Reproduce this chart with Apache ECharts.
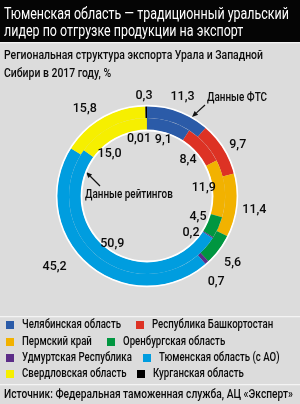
<!DOCTYPE html>
<html><head><meta charset="utf-8">
<script src="https://cdn.jsdelivr.net/npm/echarts@6/dist/echarts.min.js"></script>
<style>html,body{margin:0;padding:0;background:#dcdcdc}#c{width:300px;height:404px}</style>
</head><body><div id="c"></div>
<script>
const categories = ['Челябинская область','Республика Башкортостан','Пермский край','Оренбургская область','Удмуртская Республика','Тюменская область (с АО)','Свердловская область','Курганская область'];
const ftsValues = [11.3, 9.7, 11.4, 5.6, 0.7, 45.2, 15.8, 0.3];
const ratingValues = [9.1, 8.4, 11.9, 4.5, 0.2, 50.9, 15.0, 0.01];
const colors = ['#2b5ba8','#dd3224','#f2b200','#009640','#5c2d88','#009ddf','#f6ef00','#000000'];
const legendRows = [[0,1],[2,3],[4,5],[6,7]];
const titleLines = ['Тюменская область — традиционный уральский','лидер по отгрузке продукции на экспорт'];
const subtitleLines = ['Региональная структура экспорта Урала и Западной','Сибири в 2017 году, %'];
const sourceText = 'Источник: Федеральная таможенная служба, АЦ «Эксперт»';
const ftsNote = 'Данные ФТС';
const ratingNote = 'Данные рейтингов';
// label nudges (px) relative to the ring-label position
const outerNudge = [[-2,2],[-1,6],[0,2],[-1,2],[-3,6],[-22,-11],[-9,7],[-2,8]];
const innerNudge = [[0,0],[-2,3],[-1,-2],[-2,-3],[-5,6],[-2,0],[-11,10],[-8,1]];

const FONT = 'Roboto, "Liberation Sans", sans-serif';
const C = [147, 196];
const fmt = v => v.toFixed(v < 0.1 ? 2 : 1).replace('.', ',');

const mctx = document.createElement('canvas').getContext('2d');
function fontStr(size, w) { return (w || 'normal') + ' ' + size + 'px ' + FONT; }
function measure(text, size, w) { mctx.font = fontStr(size, w); return mctx.measureText(text).width; }
// condensed text (reference uses a narrow face): scale horizontally to the reference width
function ctext(text, x, y, size, k, fill, w) {
  return { type: 'text', x: x, y: y, scaleX: k, scaleY: 1, originX: 0, originY: 0, silent: true,
    style: { text: text, x: 0, y: 0, fill: fill || '#111', font: fontStr(size, w), verticalAlign: 'middle' } };
}

function ringData(vals) {
  return vals.map((v, i) => ({ name: categories[i], value: v, itemStyle: { color: colors[i] } }));
}
function labelRing(vals, radius, nudge) {
  return {
    type: 'pie', center: C, radius: radius, startAngle: 90, silent: true,
    avoidLabelOverlap: false, z: 5,
    itemStyle: { color: 'rgba(0,0,0,0)' },
    label: { show: true, position: 'inside', color: '#0a0a0a', fontFamily: FONT, fontSize: 12.5, fontWeight: 500,
      formatter: p => fmt(p.value) },
    labelLine: { show: false },
    emphasis: { disabled: true },
    labelLayout: p => ({ dx: nudge[p.dataIndex][0], dy: nudge[p.dataIndex][1] }),
    data: vals.map(v => ({ value: v }))
  };
}
function whiteRing(radius) {
  return { type: 'pie', center: C, radius: radius, silent: true, label: { show: false },
    emphasis: { disabled: true }, itemStyle: { color: '#ffffff' }, data: [{ value: 1 }] };
}
function arrow(x1, y1, x2, y2) {
  const dx = x2 - x1, dy = y2 - y1, L = Math.hypot(dx, dy);
  const ux = dx / L, uy = dy / L, h = 6, w = 2.6;
  const bx = x2 - ux * h, by = y2 - uy * h;
  return [
    { type: 'line', shape: { x1: x1, y1: y1, x2: bx, y2: by }, style: { stroke: '#111', lineWidth: 1.2 } },
    { type: 'polygon', shape: { points: [[x2, y2], [bx - uy * w, by + ux * w], [bx + uy * w, by - ux * w]] }, style: { fill: '#111' } }
  ];
}

// condense factors from reference text widths
const kTitle = 285 / measure(titleLines[0], 16.5);
const kSub = 259 / measure(subtitleLines[0], 13.5, 500);
const kLeg = 99 / measure(categories[0], 13, 500);
const kSrc = 289 / measure(sourceText, 13, 500);
const kNote = 60 / measure(ftsNote, 13, 500);

// legend (built from categories + colors)
const legendY = [325, 342, 358, 374];
const legendX2 = [136, 107, 143, 137];
const legendEls = [];
legendRows.forEach((row, r) => {
  row.forEach((ci, j) => {
    const x = j === 0 ? 6 : legendX2[r];
    legendEls.push({ type: 'rect', shape: { x: x, y: legendY[r] - 4, width: 8, height: 8 }, style: { fill: colors[ci] } });
    legendEls.push(ctext(categories[ci], x + 16, legendY[r], 13, kLeg, '#0a0a0a', 500));
  });
});

const graphic = [
  { type: 'rect', shape: { x: 0, y: 0, width: 300, height: 42 }, style: { fill: '#050505' } },
  { type: 'rect', shape: { x: 0, y: 42, width: 300, height: 1.2 }, style: { fill: '#f4f4f4' } },
  { type: 'rect', shape: { x: 0, y: 316, width: 300, height: 1.2 }, style: { fill: '#f4f4f4' } },
  { type: 'rect', shape: { x: 0, y: 384, width: 300, height: 1.2 }, style: { fill: '#f4f4f4' } },
  ctext(titleLines[0], 4, 14.5, 16.5, kTitle, '#fff'),
  ctext(titleLines[1], 4, 31.5, 16.5, kTitle, '#fff'),
  ctext(subtitleLines[0], 4, 55.5, 13.5, kSub, '#0a0a0a', 500),
  ctext(subtitleLines[1], 4, 74, 13.5, kSub, '#0a0a0a', 500),
  ctext(sourceText, 4, 394.5, 13, kSrc, '#0a0a0a', 500),
  ctext(ftsNote, 207, 98, 13, kNote, '#0a0a0a', 500),
  ctext(ratingNote, 85, 195, 13, kNote, '#0a0a0a', 500)
].concat(legendEls, arrow(205, 105, 192, 117), arrow(100, 186, 86, 172));

const chart = echarts.init(document.getElementById('c'), null, { renderer: 'canvas' });
chart.setOption({
  animation: false,
  backgroundColor: '#dcdcdc',
  graphic: graphic,
  series: [
    { type: 'pie', name: 'ФТС', center: C, radius: [78, 90], startAngle: 90, silent: true,
      label: { show: false }, labelLine: { show: false }, emphasis: { disabled: true }, data: ringData(ftsValues) },
    { type: 'pie', name: 'Рейтинги', center: C, radius: [66, 78], startAngle: 90, silent: true,
      label: { show: false }, labelLine: { show: false }, emphasis: { disabled: true }, data: ringData(ratingValues) },
    whiteRing([89.6, 91.2]),
    whiteRing([64.6, 66.4]),
    labelRing(ftsValues, [100, 110], outerNudge),
    labelRing(ratingValues, [50, 60], innerNudge)
  ]
});
</script></body></html>
